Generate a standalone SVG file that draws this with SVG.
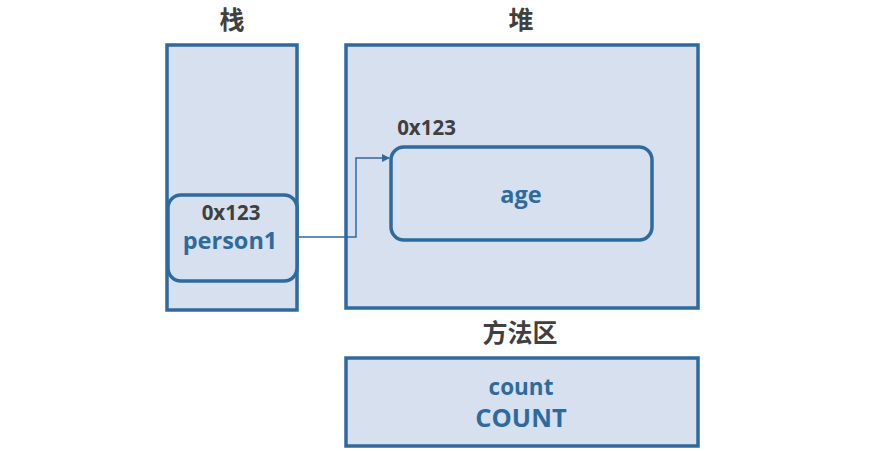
<svg xmlns="http://www.w3.org/2000/svg" width="888" height="451" viewBox="0 0 888 451">
<defs>
<style>
.box{fill:#D6E0EF;stroke:#2E6A9E;stroke-width:3.5}
.t{font-family:"Open Sans","Noto Sans CJK SC",sans-serif;font-weight:bold;text-anchor:middle}
.blue{fill:#2E6A9E}
.dark{fill:#404040}
.cn{font-family:"Noto Sans CJK SC",sans-serif;font-weight:bold;text-anchor:middle;fill:#404040;font-size:25px}
</style>
<marker id="arr" markerWidth="8" markerHeight="8" refX="7" refY="4" orient="auto" markerUnits="userSpaceOnUse">
<path d="M0,0 L8,4 L0,8 z" fill="#2E6A9E"/>
</marker>
</defs>
<g id="stack">
<text class="cn" x="232" y="29">栈</text>
<rect class="box" x="167" y="45" width="130" height="265"/>
</g>
<g id="heap">
<text class="cn" x="521" y="29">堆</text>
<rect class="box" x="346" y="45" width="352" height="263"/>
</g>
<g id="person1">
<rect class="box" x="168" y="195" width="129" height="86" rx="13"/>
<text class="t dark" x="231" y="220" font-size="20.5">0x123</text>
<text class="t blue" x="230" y="249" font-size="23.5">person1</text>
</g>
<g id="obj">
<text class="t dark" x="426.5" y="135" font-size="20.5">0x123</text>
<rect class="box" x="391" y="147" width="261" height="93" rx="13"/>
<text class="t blue" x="521" y="203" font-size="23.5">age</text>
</g>
<g id="method">
<text class="cn" x="520" y="342">方法区</text>
<rect class="box" x="346" y="358" width="352" height="88"/>
<text class="t blue" x="521" y="395" font-size="22.5">count</text>
<text class="t blue" x="521" y="427" font-size="25.5">COUNT</text>
</g>
<g id="connectors">
<path d="M297,237 H356 V158 H389" fill="none" stroke="#2E6A9E" stroke-width="1.5" marker-end="url(#arr)"/>
</g>
</svg>
